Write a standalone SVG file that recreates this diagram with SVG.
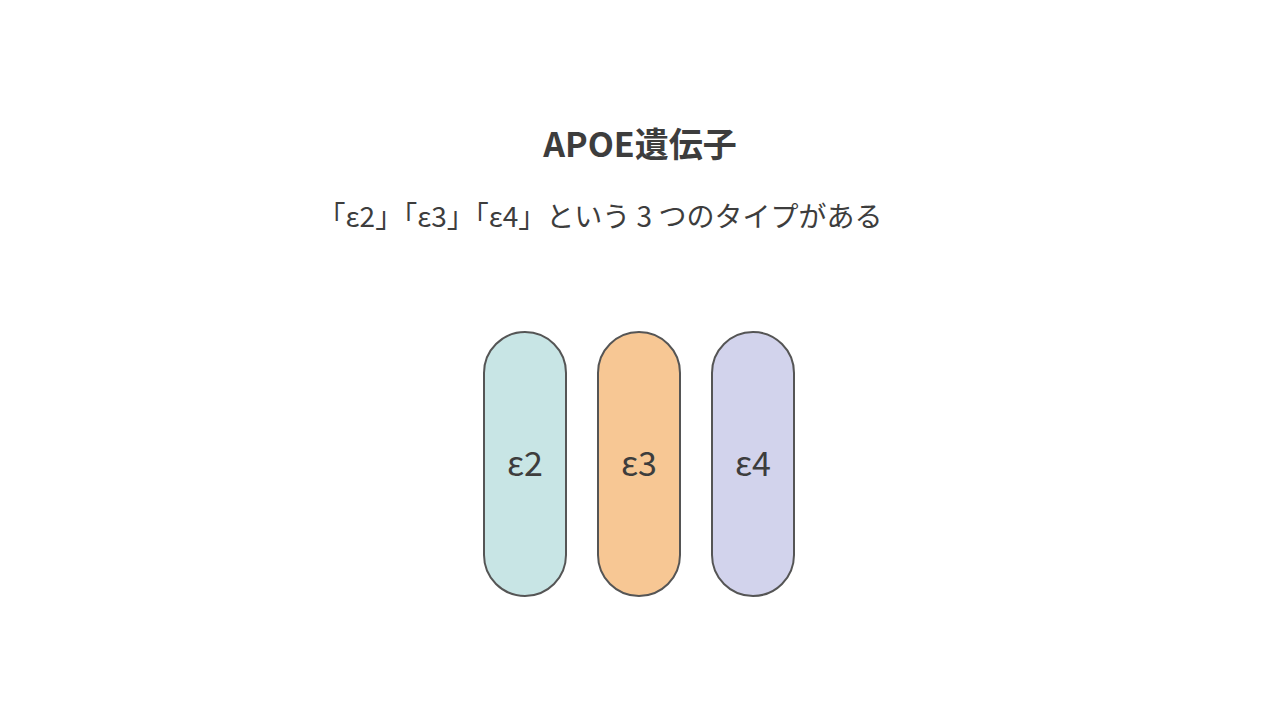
<svg xmlns="http://www.w3.org/2000/svg" width="1280" height="720" viewBox="0 0 1280 720">
<style>
text{font-family:"Noto Sans CJK JP","Noto Sans",sans-serif;fill:#3d3d3d;text-anchor:middle}
.pill{stroke:#555;stroke-width:2}
.lbl{font-size:34px}
</style>
<rect width="1280" height="720" fill="#fff"/>
<text x="640" y="157" font-size="34" font-weight="bold">APOE遺伝子</text>
<text x="600" y="227" font-size="28">「ε2」「ε3」「ε4」という 3 つのタイプがある</text>
<g id="e2"><rect class="pill" x="484" y="332" width="82" height="264" rx="41" fill="#c8e5e5"/><text class="lbl" x="525" y="476">ε2</text></g>
<g id="e3"><rect class="pill" x="598" y="332" width="82" height="264" rx="41" fill="#f7c794"/><text class="lbl" x="639" y="476">ε3</text></g>
<g id="e4"><rect class="pill" x="712" y="332" width="82" height="264" rx="41" fill="#d2d3ec"/><text class="lbl" x="753" y="476">ε4</text></g>
<g id="connectors"/>
</svg>
